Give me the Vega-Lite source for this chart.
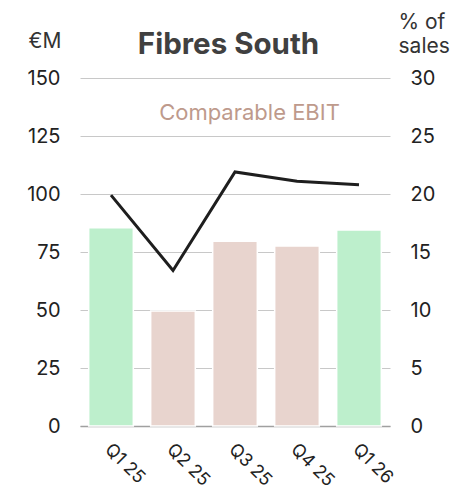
{
  "$schema": "https://vega.github.io/schema/vega-lite/v6.json",
  "width": 310,
  "height": 348,
  "autosize": {"type": "none"},
  "padding": {"left": 80, "top": 78, "right": 64, "bottom": 64},
  "background": "white",
  "config": {
    "font": "Inter",
    "view": {"stroke": null},
    "axis": {"labelFont": "Inter", "titleFont": "Inter"}
  },
  "data": {
    "values": [
      {"q": "Q1 25", "ebit": 85.5, "margin": 19.9, "kind": "Q1"},
      {"q": "Q2 25", "ebit": 49.6, "margin": 13.4, "kind": "other"},
      {"q": "Q3 25", "ebit": 79.6, "margin": 21.9, "kind": "other"},
      {"q": "Q4 25", "ebit": 77.6, "margin": 21.1, "kind": "other"},
      {"q": "Q1 26", "ebit": 84.5, "margin": 20.8, "kind": "Q1"}
    ]
  },
  "layer": [
    {
      "mark": {"type": "bar", "stroke": "white", "strokeWidth": 1.5},
      "encoding": {
        "x": {
          "field": "q",
          "type": "ordinal",
          "sort": null,
          "scale": {"paddingInner": 0.28, "paddingOuter": 0.14},
          "axis": {
            "title": "Comparable EBIT",
            "titleAngle": 0,
            "titleX": 169,
            "titleY": -307,
            "titleAlign": "center",
            "titleBaseline": "alphabetic",
            "titleFontSize": 22,
            "titleFontWeight": "normal",
            "titleColor": "#BE9A8C",
            "labelAngle": 45,
            "labelAlign": "left",
            "labelBaseline": "top",
            "labelFontSize": 18,
            "labelColor": "#222222",
            "labelPadding": 14,
            "labelOffset": 3,
            "ticks": false,
            "domain": true,
            "domainColor": "#A0A0A0",
            "domainWidth": 1.5,
            "grid": false
          }
        },
        "y": {
          "field": "ebit",
          "type": "quantitative",
          "scale": {"domain": [0, 150]},
          "axis": {
            "values": [0, 25, 50, 75, 100, 125, 150],
            "title": "€M",
            "titleAngle": 0,
            "titleX": -52,
            "titleY": -31,
            "titleAlign": "left",
            "titleBaseline": "alphabetic",
            "titleFontSize": 21,
            "titleFontWeight": "normal",
            "titleColor": "#333333",
            "labelFontSize": 20,
            "labelColor": "#222222",
            "labelPadding": 20,
            "ticks": false,
            "domain": false,
            "grid": true,
            "gridColor": "#C8C8C8",
            "gridWidth": 1
          }
        },
        "color": {
          "field": "kind",
          "type": "nominal",
          "scale": {"domain": ["Q1", "other"], "range": ["#BDEFCC", "#E8D4CE"]},
          "legend": null
        }
      }
    },
    {
      "mark": {"type": "line", "color": "#1E1E1E", "strokeWidth": 3, "strokeJoin": "miter"},
      "encoding": {
        "x": {
          "field": "q",
          "type": "ordinal",
          "sort": null,
          "axis": {
            "orient": "top",
            "title": "Fibres South",
            "titleAngle": 0,
            "titleX": 148,
            "titleY": -25,
            "titleAlign": "center",
            "titleBaseline": "alphabetic",
            "titleFontSize": 29.5,
            "titleFontWeight": "bold",
            "titleColor": "#404040",
            "labels": false,
            "ticks": false,
            "domain": false,
            "grid": false
          }
        },
        "y": {
          "field": "margin",
          "type": "quantitative",
          "scale": {"domain": [0, 30]},
          "axis": {
            "orient": "right",
            "values": [0, 5, 10, 15, 20, 25, 30],
            "title": ["% of", "sales"],
            "titleAngle": 0,
            "titleX": 8,
            "titleY": -50,
            "titleAlign": "left",
            "titleBaseline": "alphabetic",
            "titleLineHeight": 24,
            "titleFontSize": 21,
            "titleFontWeight": "normal",
            "titleColor": "#333333",
            "labelFontSize": 20,
            "labelColor": "#222222",
            "labelPadding": 20,
            "ticks": false,
            "domain": false,
            "grid": false
          }
        }
      }
    }
  ],
  "resolve": {"scale": {"y": "independent", "color": "independent"}, "axis": {"x": "independent"}}
}
